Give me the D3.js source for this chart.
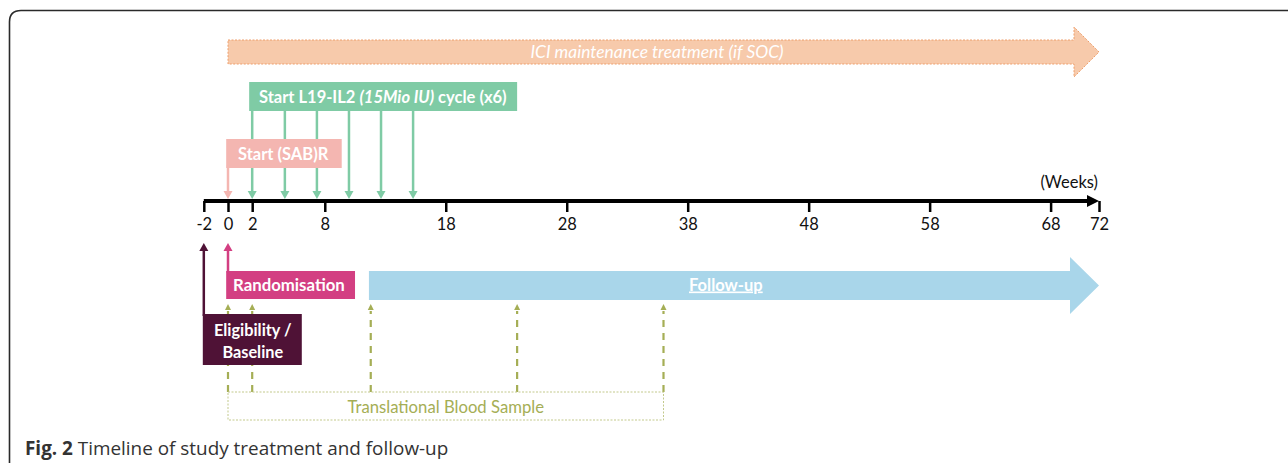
<!DOCTYPE html>
<html>
<head>
<meta charset="utf-8">
<script src="https://cdn.jsdelivr.net/npm/d3@7"></script>
<style>
  body { margin: 0; background: #fff; }
  svg text { font-family: Lato, "Open Sans", sans-serif; }
</style>
</head>
<body>
<div id="chart"></div>
<script>
const svgWidth = 1288;
const svgHeight = 463;

// axis ticks (weeks)
const tickWeeks = [-2, 0, 2, 8, 18, 28, 38, 48, 58, 68, 72];
// L19-IL2 cycle starts (weeks)
const cycleWeeks = [2, 4.7, 7.35, 10, 12.65, 15.3];
// translational blood samples (weeks)
const bloodWeeks = [0, 2, 11.8, 23.9, 36];
// phase spans [start, end] in weeks
const iciSpan = [0, 72];
const cycleBoxSpan = [1.75, 23.9];
const sabSpan = [-0.15, 9.4];
const randSpan = [-0.15, 10.5];
const eligSpan = [-2, 6.1];
const followSpan = [11.65, 72];
const bloodBoxSpan = [0, 36];

const xScale = d3.scaleLinear().domain([0, 72]).range([228, 1099]);
const axisY = 201;

const svg = d3.select("#chart")
    .append("svg")
    .attr("width", svgWidth)
    .attr("height", svgHeight);

// outer frame (rounded corner at top-left)
svg.append("path")
    .attr("d", "M9.5,470 L9.5,22 Q9.5,10.5 21,10.5 L1295,10.5")
    .attr("fill", "none")
    .attr("stroke", "#2a2a2a")
    .attr("stroke-width", 1.6);

// block arrow helper: body from x0 to x1 (head starts at x1 - headLen)
function blockArrow(x0, x1, yTop, yBot, headTop, headBot, headLen) {
    const mid = (yTop + yBot) / 2;
    const hx = x1 - headLen;
    return `M${x0},${yTop} L${hx},${yTop} L${hx},${headTop} L${x1},${mid} L${hx},${headBot} L${hx},${yBot} L${x0},${yBot} Z`;
}

// ICI maintenance arrow
svg.append("path")
    .attr("d", blockArrow(xScale(iciSpan[0]), xScale(iciSpan[1]), 40, 64, 27, 77, 25))
    .attr("fill", "#f7caab")
    .attr("stroke", "#ee9f6c")
    .attr("stroke-width", 1)
    .attr("stroke-dasharray", "2,1.5");
svg.append("text")
    .attr("x", 657)
    .attr("y", 58)
    .attr("text-anchor", "middle")
    .attr("font-size", 17.4)
    .attr("font-style", "italic")
    .attr("fill", "#fff")
    .text("ICI maintenance treatment (if SOC)");

// green cycle arrows
const green = "#7fcba5";
svg.append("g")
    .selectAll("line")
    .data(cycleWeeks)
    .enter()
    .append("line")
    .attr("x1", d => xScale(d))
    .attr("x2", d => xScale(d))
    .attr("y1", 110)
    .attr("y2", 193)
    .attr("stroke", green)
    .attr("stroke-width", 2.5);
svg.append("g")
    .selectAll("path")
    .data(cycleWeeks)
    .enter()
    .append("path")
    .attr("d", d => `M${xScale(d) - 4.5},${191} L${xScale(d) + 4.5},${191} L${xScale(d)},${199} Z`)
    .attr("fill", green);

// green box
svg.append("rect")
    .attr("x", xScale(cycleBoxSpan[0]))
    .attr("y", 82)
    .attr("width", xScale(cycleBoxSpan[1]) - xScale(cycleBoxSpan[0]))
    .attr("height", 29)
    .attr("fill", green);
const cycleText = svg.append("text")
    .attr("x", 259)
    .attr("y", 102.5)
    .attr("font-size", 16.5)
    .attr("font-weight", "bold")
    .attr("fill", "#fff");
cycleText.append("tspan").text("Start L19-IL2 ");
cycleText.append("tspan").attr("font-style", "italic").text("(15Mio IU)");
cycleText.append("tspan").text(" cycle (x6)");

// SAB box + arrow
const sabPink = "#f4b6b1";
svg.append("line")
    .attr("x1", xScale(0)).attr("x2", xScale(0))
    .attr("y1", 165).attr("y2", 193)
    .attr("stroke", sabPink).attr("stroke-width", 2.5);
svg.append("path")
    .attr("d", `M${xScale(0) - 4.5},191 L${xScale(0) + 4.5},191 L${xScale(0)},199 Z`)
    .attr("fill", sabPink);
svg.append("rect")
    .attr("x", xScale(sabSpan[0]))
    .attr("y", 139)
    .attr("width", xScale(sabSpan[1]) - xScale(sabSpan[0]))
    .attr("height", 29)
    .attr("fill", sabPink);
svg.append("text")
    .attr("x", 238)
    .attr("y", 159.5)
    .attr("font-size", 16.5)
    .attr("font-weight", "bold")
    .attr("fill", "#fff")
    .text("Start (SAB)R");

// time axis
const xAxis = d3.axisBottom(xScale)
    .tickValues(tickWeeks)
    .tickFormat(d => String(d))
    .tickSize(11)
    .tickSizeOuter(0)
    .tickPadding(6);
const axisG = svg.append("g")
    .attr("transform", `translate(0, ${axisY})`)
    .call(xAxis);
axisG.select(".domain")
    .attr("stroke", "#000")
    .attr("stroke-width", 4)
    .attr("d", `M${xScale(-2)},0 L${xScale(72) - 8},0`);
axisG.selectAll(".tick line")
    .attr("stroke", "#000")
    .attr("stroke-width", 2.5);
axisG.selectAll(".tick text")
    .attr("font-family", "Lato, 'Open Sans', sans-serif")
    .attr("font-size", 16.5)
    .attr("fill", "#111");
svg.append("path")
    .attr("d", `M${xScale(72) - 12},${axisY - 6} L${xScale(72)},${axisY} L${xScale(72) - 12},${axisY + 6} Z`)
    .attr("fill", "#000");
svg.append("text")
    .attr("x", xScale(72) - 1)
    .attr("y", 188)
    .attr("text-anchor", "end")
    .attr("font-size", 16.5)
    .attr("fill", "#111")
    .text("(Weeks)");

// blood sample arrows (behind the boxes)
const olive = "#a5ae55";
svg.append("g")
    .selectAll("line")
    .data(bloodWeeks)
    .enter()
    .append("line")
    .attr("x1", d => xScale(d))
    .attr("x2", d => xScale(d))
    .attr("y1", 392)
    .attr("y2", 311)
    .attr("stroke", olive)
    .attr("stroke-width", 2.2)
    .attr("stroke-dasharray", "7,6");
svg.append("g")
    .selectAll("path")
    .data(bloodWeeks)
    .enter()
    .append("path")
    .attr("d", d => `M${xScale(d) - 3},310 L${xScale(d) + 3},310 L${xScale(d)},304 Z`)
    .attr("fill", olive);

// eligibility arrow + box
const purple = "#4f1236";
svg.append("line")
    .attr("x1", xScale(-2)).attr("x2", xScale(-2))
    .attr("y1", 316).attr("y2", 249)
    .attr("stroke", purple).attr("stroke-width", 2.5);
svg.append("path")
    .attr("d", `M${xScale(-2) - 4.5},251 L${xScale(-2) + 4.5},251 L${xScale(-2)},243 Z`)
    .attr("fill", purple);
svg.append("rect")
    .attr("x", xScale(eligSpan[0]) - 1)
    .attr("y", 314)
    .attr("width", xScale(eligSpan[1]) - xScale(eligSpan[0]) + 1)
    .attr("height", 51)
    .attr("fill", purple);
svg.append("text")
    .attr("x", (xScale(eligSpan[0]) + xScale(eligSpan[1])) / 2)
    .attr("y", 335.5)
    .attr("text-anchor", "middle")
    .attr("font-size", 16.3)
    .attr("font-weight", "bold")
    .attr("fill", "#fff")
    .text("Eligibility /");
svg.append("text")
    .attr("x", (xScale(eligSpan[0]) + xScale(eligSpan[1])) / 2)
    .attr("y", 357.5)
    .attr("text-anchor", "middle")
    .attr("font-size", 16.3)
    .attr("font-weight", "bold")
    .attr("fill", "#fff")
    .text("Baseline");

// randomisation arrow + box
const magenta = "#d33f82";
svg.append("line")
    .attr("x1", xScale(0)).attr("x2", xScale(0))
    .attr("y1", 273).attr("y2", 249)
    .attr("stroke", magenta).attr("stroke-width", 2.5);
svg.append("path")
    .attr("d", `M${xScale(0) - 4.5},251 L${xScale(0) + 4.5},251 L${xScale(0)},243 Z`)
    .attr("fill", magenta);
svg.append("rect")
    .attr("x", xScale(randSpan[0]))
    .attr("y", 271)
    .attr("width", xScale(randSpan[1]) - xScale(randSpan[0]))
    .attr("height", 28)
    .attr("fill", magenta);
svg.append("text")
    .attr("x", 233)
    .attr("y", 291)
    .attr("font-size", 16.8)
    .attr("font-weight", "bold")
    .attr("fill", "#fff")
    .text("Randomisation");

// follow-up arrow
svg.append("path")
    .attr("d", blockArrow(xScale(followSpan[0]), xScale(followSpan[1]), 271, 300, 257, 314, 29))
    .attr("fill", "#a9d6ea");
svg.append("text")
    .attr("x", 689)
    .attr("y", 290.5)
    .attr("font-size", 16.5)
    .attr("font-weight", "bold")
    .attr("fill", "#fff")
    .attr("text-decoration", "underline")
    .text("Follow-up");

// blood sample box
svg.append("rect")
    .attr("x", xScale(bloodBoxSpan[0]))
    .attr("y", 392)
    .attr("width", xScale(bloodBoxSpan[1]) - xScale(bloodBoxSpan[0]))
    .attr("height", 28)
    .attr("fill", "none")
    .attr("stroke", "#c3c98c")
    .attr("stroke-width", 1)
    .attr("stroke-dasharray", "2,1.5");
svg.append("text")
    .attr("x", (xScale(bloodBoxSpan[0]) + xScale(bloodBoxSpan[1])) / 2)
    .attr("y", 412.5)
    .attr("text-anchor", "middle")
    .attr("font-size", 16.7)
    .attr("fill", olive)
    .text("Translational Blood Sample");

// caption
const caption = svg.append("text")
    .attr("x", 25)
    .attr("y", 455)
    .attr("font-size", 18.9)
    .attr("fill", "#333")
    .style("font-family", "'Open Sans', sans-serif");
caption.append("tspan").attr("font-weight", "bold").text("Fig. 2");
caption.append("tspan").text(" Timeline of study treatment and follow-up");
</script>
</body>
</html>
